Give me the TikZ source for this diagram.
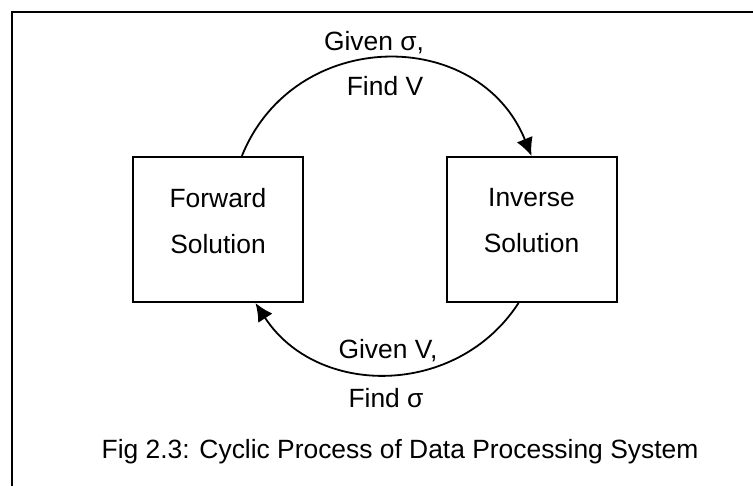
\documentclass[tikz,border=0pt]{standalone}
\usepackage{fontspec}
\setmainfont{Liberation Sans}
\usetikzlibrary{arrows.meta,calc}

\begin{document}
\begin{tikzpicture}[x=0.5pt,y=0.5pt,
    box/.style={draw, line width=1pt, minimum width=85pt, minimum height=72.5pt, align=center, text depth=9pt, font=\fontsize{13.2}{23}\selectfont},
    lbl/.style={anchor=base, font=\fontsize{13.2}{15}\selectfont},
    cyc/.style={line width=0.9pt, -{Latex[length=9pt,width=8.5pt]}}]
    \useasboundingbox (0,0) rectangle (753,-486);
    \coordinate (TR) at (753,-12); \coordinate (TL) at (12,-12); \coordinate (BL) at (12,-486);
    \draw[line width=1.2pt] (TR) -- (TL) -- (BL);
    \node[box] (fwd) at (218,-229.5) {Forward\\Solution};
    \node[box] (inv) at (531.5,-229.5) {Inverse\\Solution};
    \draw[cyc] (fwd.72) to[out=68, in=112, looseness=1.24] (inv.north);
    \draw[cyc] (inv.260) to[out=237, in=-57, looseness=1.1] (fwd.297);
    \node[lbl] (givsig) at (374,-51) {Given σ,};
    \node[lbl] (findV) at (385,-96) {Find V};
    \node[lbl] (givV) at (388,-358) {Given V,};
    \node[lbl] (findsig) at (386,-407) {Find σ};
    \node[lbl] (cap) at (400,-458) {Fig 2.3: Cyclic Process of Data Processing System};
\end{tikzpicture}
\end{document}
